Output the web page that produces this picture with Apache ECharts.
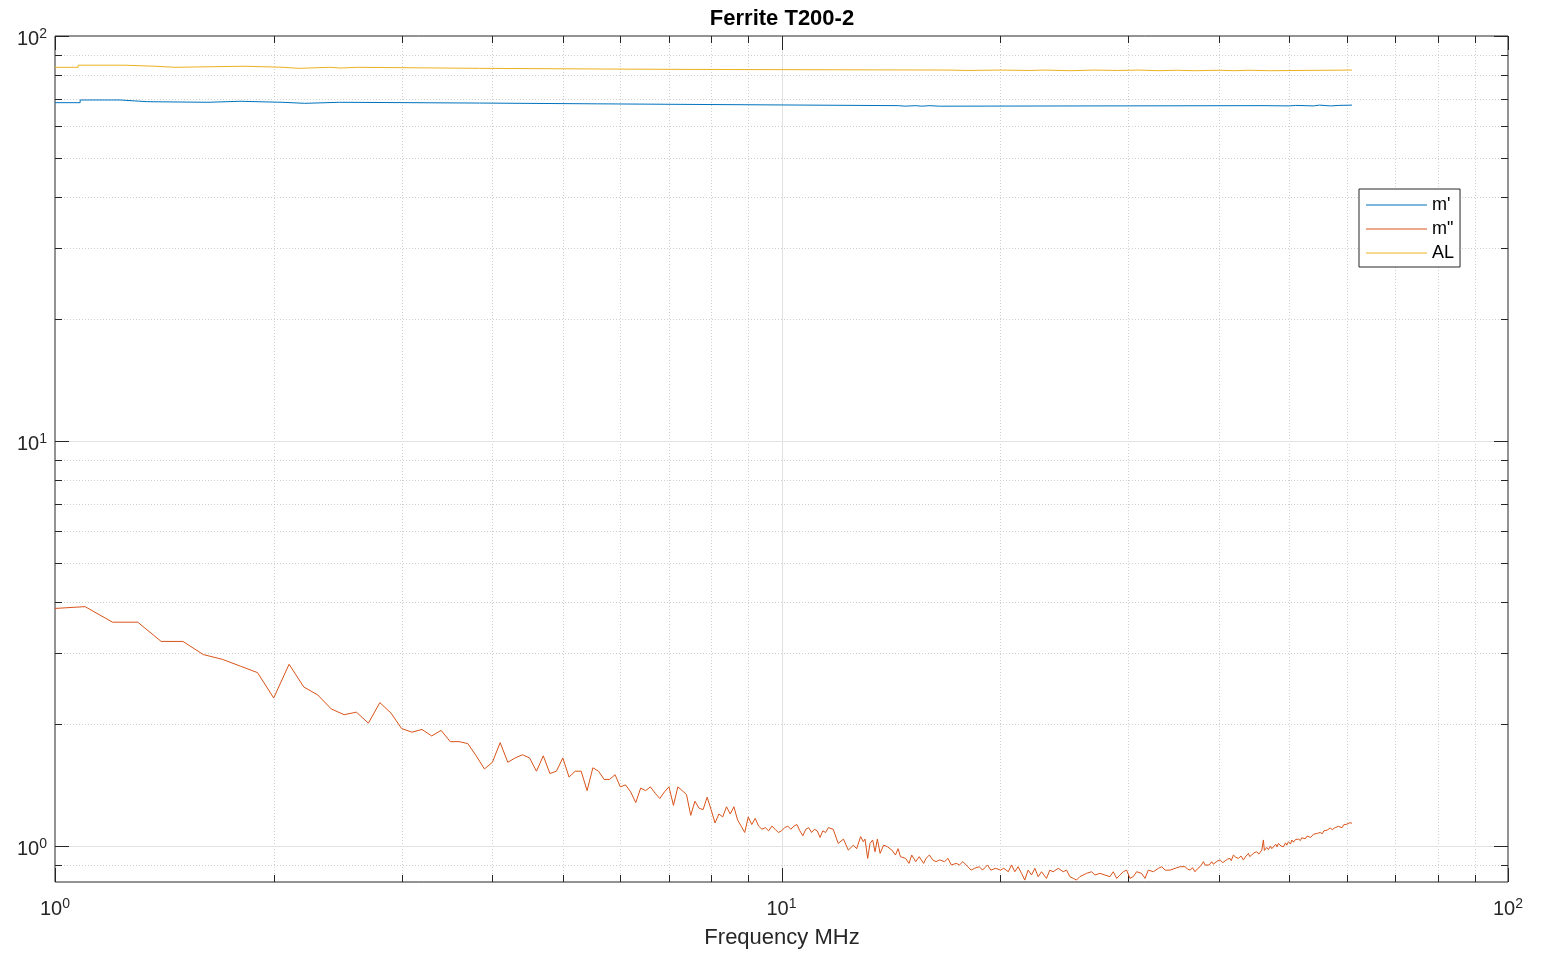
<!DOCTYPE html>
<html>
<head>
<meta charset="utf-8">
<script src="https://cdn.jsdelivr.net/npm/echarts@6/dist/echarts.min.js"></script>
<style>
html,body{margin:0;padding:0;background:#fff;}
#c{width:1544px;height:954px;}
</style>
</head>
<body>
<div id="c"></div>
<script>
const FONT = '"Liberation Sans", Arial, Helvetica, sans-serif';
const TITLE = 'Ferrite T200-2';
const X_NAME = 'Frequency MHz';
const seriesNames = ["m'", 'm"', 'AL'];
const seriesColors = ['#0072BD', '#D95319', '#EDB120'];

const X_MIN = 1, X_MAX = 100;
const Y_MIN = 0.815, Y_MAX = 100;
const xMajorTicks = [1, 10, 100];
const xMinorTicks = [2, 3, 4, 5, 6, 7, 8, 9, 20, 30, 40, 50, 60, 70, 80, 90];
const yMajorTicks = [1, 10, 100];
const yMinorTicks = [0.9, 2, 3, 4, 5, 6, 7, 8, 9, 20, 30, 40, 50, 60, 70, 80, 90];

// m' (step levels: value holds from this frequency to the next)
const muPrimeFreq = [1.0, 1.083, 1.229, 1.339, 1.624, 1.797, 2.054, 2.207, 2.466, 3.84, 5.58, 7.25,
  14.5, 14.8, 15.3, 15.6, 16.0, 16.5, 46, 50, 51, 54, 55, 57, 58.5, 61.0];
const muPrime = [68.45, 69.5, 68.84, 68.6, 69.0, 68.6, 68.2, 68.6, 68.3, 68.0, 67.8, 67.3,
  67.1, 67.3, 67.1, 67.3, 67.1, 67.3, 67.2, 67.4, 67.2, 67.5, 67.2, 67.4, 67.5, 67.5];

// AL (step levels)
const alFreq = [1.0, 1.076, 1.248, 1.373, 1.463, 1.826, 2.06, 2.17, 2.39, 2.47, 2.61, 3.84, 5.63, 7.48,
  17, 18, 20, 22, 23, 25, 27, 29, 31, 33, 35, 37, 40, 42, 44, 47, 61.0];
const al = [83.7, 84.7, 84.2, 83.7, 84.2, 83.7, 83.2, 83.7, 83.35, 83.7, 83.2, 82.9, 82.7, 82.4,
  82.2, 82.4, 82.2, 82.4, 82.1, 82.4, 82.2, 82.4, 82.1, 82.3, 82.1, 82.3, 82.1, 82.3, 82.1, 82.4, 82.4];

// m''
const muDPFreq = [
  1.0, 1.1, 1.2, 1.3, 1.4, 1.5, 1.6, 1.7, 1.8, 1.9,
  2.0, 2.1, 2.2, 2.3, 2.4, 2.5, 2.6, 2.7, 2.8, 2.9,
  3.0, 3.1, 3.2, 3.3, 3.4, 3.5, 3.6, 3.7, 3.8, 3.9,
  4.0, 4.1, 4.2, 4.3, 4.4, 4.5, 4.6, 4.7, 4.8, 4.9,
  5.0, 5.1, 5.2, 5.3, 5.4, 5.5, 5.6, 5.7, 5.8, 5.9,
  6.0, 6.1, 6.2, 6.3, 6.4, 6.5, 6.6, 6.7, 6.8, 6.9,
  7.0, 7.1, 7.2, 7.3, 7.4, 7.5, 7.6, 7.7, 7.8, 7.9,
  8.0, 8.1, 8.2, 8.3, 8.4, 8.5, 8.6, 8.7, 8.8, 8.9,
  9.0, 9.1, 9.2, 9.3, 9.4, 9.5, 9.6, 9.7, 9.8, 9.9,
  10.0, 10.1, 10.2, 10.3, 10.4, 10.5, 10.6, 10.7, 10.8, 10.9,
  11.0, 11.1, 11.2, 11.3, 11.4, 11.5, 11.6,
  11.78, 11.97, 12.17, 12.36, 12.56, 12.69, 12.85, 12.96, 13.03, 13.14,
  13.24, 13.35, 13.45, 13.55, 13.67, 13.82, 13.99, 14.19, 14.35, 14.47,
  14.58, 14.82, 14.98, 15.11, 15.3, 15.47, 15.69, 15.81, 15.98, 16.15,
  16.32, 16.5, 16.77, 16.95, 17.13, 17.4, 17.58, 17.77, 18.05, 18.24,
  18.43, 18.72, 18.91, 19.21, 19.41, 19.71, 20.02, 20.23,
  20.52, 20.73, 20.95, 21.17, 21.40, 21.62, 21.85, 22.09, 22.32, 22.56,
  22.80, 23.16, 23.41, 23.65, 24.04, 24.42, 24.68, 24.94, 25.21, 25.47,
  25.74, 26.02, 26.29, 26.72, 27.0, 27.43, 27.87, 28.32, 28.62, 28.93,
  29.23, 29.54, 29.86, 30.17, 30.49, 30.82, 31.31, 31.65, 31.98, 32.5,
  33.02, 33.37, 33.73, 34.27, 34.82, 35.38,
  35.93, 36.2, 36.5, 36.8, 37.08, 37.4, 37.68, 37.9, 38.08, 38.3,
  38.48, 38.8, 39.1, 39.3, 39.52, 39.8, 40.15, 40.5, 40.79, 41.1,
  41.44, 41.6, 41.88, 42.2, 42.55, 42.9, 43.23, 43.6, 43.92, 44.1,
  44.39, 44.7, 45.1, 45.4, 45.82, 46.06, 46.2, 46.31, 46.55, 46.8,
  47.1, 47.3, 47.55, 47.9, 48.1, 48.31, 48.7, 49.08, 49.4, 49.6,
  49.87, 50.2, 50.4, 50.66, 51.0, 51.2, 51.47, 51.8, 52.0, 52.3,
  52.6, 52.9, 53.13, 53.5, 53.98, 54.3, 54.7, 55.13, 55.5, 55.8,
  56.01, 56.4, 56.7, 56.91, 57.3, 57.82, 58.1, 58.4, 58.74, 59.1,
  59.4, 59.68, 60.0, 60.31, 60.6, 61.0
];
const muDP = [
  3.86, 3.90, 3.57, 3.57, 3.20, 3.20, 2.97, 2.89, 2.78, 2.68,
  2.32, 2.81, 2.47, 2.36, 2.18, 2.11, 2.14, 2.01, 2.26, 2.13,
  1.95, 1.91, 1.94, 1.87, 1.93, 1.81, 1.81, 1.79, 1.67, 1.55,
  1.61, 1.80, 1.61, 1.65, 1.68, 1.65, 1.53, 1.67, 1.51, 1.53,
  1.65, 1.48, 1.53, 1.53, 1.37, 1.56, 1.53, 1.46, 1.46, 1.50,
  1.40, 1.415, 1.36, 1.28, 1.39, 1.37, 1.40, 1.35, 1.31, 1.36,
  1.40, 1.26, 1.40, 1.37, 1.34, 1.19, 1.29, 1.24, 1.23, 1.32,
  1.23, 1.14, 1.20, 1.18, 1.25, 1.20, 1.25, 1.16, 1.12, 1.08,
  1.18, 1.13, 1.17, 1.12, 1.10, 1.11, 1.09, 1.12, 1.10, 1.08,
  1.09, 1.11, 1.12, 1.10, 1.12, 1.13, 1.09, 1.06, 1.10, 1.11,
  1.08, 1.10, 1.09, 1.05, 1.09, 1.08, 1.11,
  1.10, 1.015, 1.04, 0.977, 1.005, 0.985, 1.055, 1.025, 1.04, 0.932,
  1.015, 1.035, 0.968, 1.04, 0.959, 1.005, 0.996, 0.977, 0.95, 0.985,
  0.941, 0.932, 0.906, 0.95, 0.915, 0.941, 0.906, 0.932, 0.95, 0.924,
  0.915, 0.924, 0.915, 0.932, 0.898, 0.906, 0.898, 0.915, 0.889, 0.872,
  0.881, 0.889, 0.872, 0.898, 0.872, 0.881, 0.872, 0.881,
  0.864, 0.898, 0.864, 0.889, 0.856, 0.824, 0.872, 0.848, 0.881, 0.840,
  0.864, 0.832, 0.872, 0.864, 0.881, 0.864, 0.872, 0.840, 0.832, 0.824,
  0.840, 0.848, 0.856, 0.864, 0.848, 0.856, 0.848, 0.840, 0.864, 0.832,
  0.848, 0.864, 0.872, 0.832, 0.840, 0.864, 0.856, 0.832, 0.872, 0.864,
  0.881, 0.889, 0.872, 0.872, 0.881, 0.889,
  0.889, 0.878, 0.872, 0.884, 0.864, 0.880, 0.889, 0.902, 0.915, 0.897,
  0.906, 0.898, 0.915, 0.902, 0.906, 0.918, 0.924, 0.910, 0.919, 0.928,
  0.932, 0.920, 0.950, 0.938, 0.932, 0.945, 0.924, 0.945, 0.959, 0.942,
  0.950, 0.962, 0.968, 0.955, 0.977, 1.035, 0.975, 0.977, 0.992, 0.980,
  1.000, 0.985, 0.996, 1.010, 0.995, 1.015, 1.000, 0.996, 1.018, 1.005,
  1.025, 1.012, 1.035, 1.022, 1.038, 1.028, 1.040, 1.032, 1.048, 1.050,
  1.042, 1.058, 1.060, 1.050, 1.069, 1.062, 1.075, 1.080, 1.072, 1.090,
  1.085, 1.095, 1.088, 1.108, 1.098, 1.110, 1.104, 1.118, 1.116, 1.110,
  1.128, 1.125, 1.132, 1.130, 1.142, 1.138
];

function zip(xs, ys) { return xs.map((x, i) => [x, ys[i]]); }

const vLines = xMajorTicks.map(v => [v, 1, 1]).concat(xMinorTicks.map(v => [v, 1, 0]));
const hLines = yMajorTicks.map(v => [1, v, 1]).concat(yMinorTicks.map(v => [1, v, 0]));

const AXIS_COLOR = '#262626';
const MAJOR_GRID = { stroke: '#e2e2e2', lineWidth: 1 };
const MINOR_GRID = { stroke: '#cfcfcf', lineWidth: 1, lineDash: [1, 2] };

function crisp(p) { return Math.round(p) + 0.5; }

function renderV(params, api) {
  const v = api.value(0), major = api.value(2);
  const cs = params.coordSys;
  const x = crisp(api.coord([v, Y_MIN])[0]);
  const top = cs.y, bot = cs.y + cs.height;
  const tl = major ? 14 : 7;
  const ch = [];
  if (v > X_MIN && v < X_MAX) {
    ch.push({ type: 'line', shape: { x1: x, y1: top, x2: x, y2: bot }, style: major ? MAJOR_GRID : MINOR_GRID });
  }
  ch.push({ type: 'line', shape: { x1: x, y1: bot, x2: x, y2: bot - tl }, style: { stroke: AXIS_COLOR, lineWidth: 1 } });
  ch.push({ type: 'line', shape: { x1: x, y1: top, x2: x, y2: top + tl }, style: { stroke: AXIS_COLOR, lineWidth: 1 } });
  return { type: 'group', children: ch };
}
function renderH(params, api) {
  const v = api.value(1), major = api.value(2);
  const cs = params.coordSys;
  const y = crisp(api.coord([X_MIN, v])[1]);
  const left = cs.x, right = cs.x + cs.width;
  const tl = major ? 14 : 7;
  const ch = [];
  if (v > Y_MIN && v < Y_MAX) {
    ch.push({ type: 'line', shape: { x1: left, y1: y, x2: right, y2: y }, style: major ? MAJOR_GRID : MINOR_GRID });
  }
  ch.push({ type: 'line', shape: { x1: left, y1: y, x2: left + tl, y2: y }, style: { stroke: AXIS_COLOR, lineWidth: 1 } });
  ch.push({ type: 'line', shape: { x1: right, y1: y, x2: right - tl, y2: y }, style: { stroke: AXIS_COLOR, lineWidth: 1 } });
  return { type: 'group', children: ch };
}

function powLabel(v) {
  const lg = Math.log10(v);
  const e = Math.round(lg);
  if (Math.abs(lg - e) > 1e-6) return '';
  return '{b|10}{s|' + e + '}';
}
const labelRich = {
  b: { fontFamily: FONT, fontSize: 20, color: AXIS_COLOR, lineHeight: 24 },
  s: { fontFamily: FONT, fontSize: 14, color: AXIS_COLOR, lineHeight: 9, verticalAlign: 'top' }
};

const chart = echarts.init(document.getElementById('c'), null, { renderer: 'canvas' });
chart.setOption({
  animation: false,
  backgroundColor: '#ffffff',
  graphic: [
    { type: 'text', x: 782, y: 19, z: 10, style: { text: TITLE, fontFamily: FONT, fontSize: 22, fontWeight: 'bold', fill: '#000', textAlign: 'center', textVerticalAlign: 'middle' } },
    { type: 'text', x: 782, y: 938, z: 10, style: { text: X_NAME, fontFamily: FONT, fontSize: 22, fill: AXIS_COLOR, textAlign: 'center', textVerticalAlign: 'middle' } }
  ],
  grid: {
    left: 55, right: 36, top: 36, bottom: 72,
    containLabel: false, outerBoundsMode: 'none',
    show: true, borderColor: AXIS_COLOR, borderWidth: 1, backgroundColor: 'transparent'
  },
  legend: {
    orient: 'vertical', left: 1359, top: 189,
    data: seriesNames,
    icon: 'rect', itemWidth: 61, itemHeight: 1, itemGap: 4,
    padding: [6, 6, 4, 7],
    borderColor: '#262626', borderWidth: 1, borderRadius: 0, backgroundColor: '#fff',
    textStyle: { fontFamily: FONT, fontSize: 18, color: '#000', lineHeight: 20 },
    selectedMode: false
  },
  xAxis: {
    type: 'log', logBase: 10, min: X_MIN, max: X_MAX,
    axisLine: { show: false }, axisTick: { show: false }, splitLine: { show: false },
    axisLabel: { formatter: powLabel, rich: labelRich, margin: 8, padding: [7, 0, 0, 0], showMinLabel: true, showMaxLabel: true, hideOverlap: false }
  },
  yAxis: {
    type: 'log', logBase: 10, min: Y_MIN, max: Y_MAX,
    axisLine: { show: false }, axisTick: { show: false }, splitLine: { show: false },
    axisLabel: { formatter: powLabel, rich: labelRich, margin: 8, padding: [7, 0, 0, 0], showMinLabel: true, showMaxLabel: true, hideOverlap: false }
  },
  series: [
    { type: 'custom', name: 'vgrid', renderItem: renderV, data: vLines, z: 1, silent: true, clip: false },
    { type: 'custom', name: 'hgrid', renderItem: renderH, data: hLines, z: 1, silent: true, clip: false },
    { name: seriesNames[0], type: 'line', data: zip(muPrimeFreq, muPrime), step: 'end', showSymbol: false, symbol: 'none',
      lineStyle: { width: 1, color: seriesColors[0] }, itemStyle: { color: seriesColors[0] }, z: 3 },
    { name: seriesNames[1], type: 'line', data: zip(muDPFreq, muDP), showSymbol: false, symbol: 'none',
      lineStyle: { width: 1, color: seriesColors[1] }, itemStyle: { color: seriesColors[1] }, z: 3 },
    { name: seriesNames[2], type: 'line', data: zip(alFreq, al), step: 'end', showSymbol: false, symbol: 'none',
      lineStyle: { width: 1, color: seriesColors[2] }, itemStyle: { color: seriesColors[2] }, z: 3 }
  ]
});
</script>
</body>
</html>
